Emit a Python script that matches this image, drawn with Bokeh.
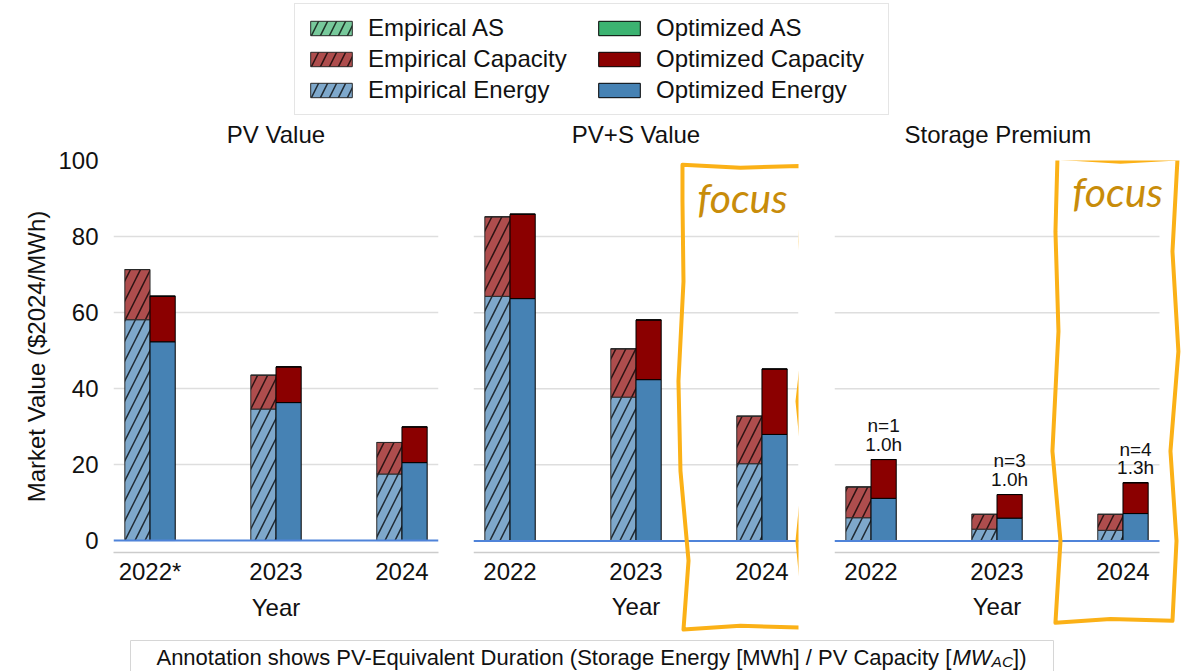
from bokeh.plotting import figure
from bokeh.layouts import column, row
from bokeh.models import (Range1d, FixedTicker, Label, Legend, LegendItem, Title,
                          ColumnDataSource, PolyAnnotation)
from bokeh.transform import dodge
from bokeh.core.properties import value
from bokeh.embed import file_html
from bokeh.resources import INLINE

# ---------------- data ----------------
years = ["2022", "2023", "2024"]
first_panel_year_labels = ["2022*", "2023", "2024"]

pv_emp_energy = [58.1, 34.6, 17.5]
pv_emp_capacity = [13.2, 8.9, 8.3]
pv_emp_as = [0.0, 0.0, 0.0]
pv_opt_energy = [52.3, 36.3, 20.5]
pv_opt_capacity = [12.0, 9.4, 9.4]
pv_opt_as = [0.0, 0.0, 0.0]

pvs_emp_energy = [64.3, 37.8, 20.3]
pvs_emp_capacity = [20.9, 12.7, 12.5]
pvs_emp_as = [0.0, 0.0, 0.0]
pvs_opt_energy = [63.7, 42.4, 28.0]
pvs_opt_capacity = [22.2, 15.7, 17.2]
pvs_opt_as = [0.0, 0.0, 0.0]

sp_emp_energy = [6.1, 3.1, 2.8]
sp_emp_capacity = [8.1, 3.9, 4.2]
sp_emp_as = [0.0, 0.0, 0.0]
sp_opt_energy = [11.2, 6.0, 7.2]
sp_opt_capacity = [10.2, 6.2, 8.1]
sp_opt_as = [0.0, 0.0, 0.0]

sp_n_sites = [1, 3, 4]
sp_duration_h = [1.0, 1.0, 1.3]

y_ticks = [0, 20, 40, 60, 80, 100]
grid_ticks = [20, 40, 60, 80]

panel_titles = ["PV Value", "PV+S Value", "Storage Premium"]
legend_emp = ["Empirical AS", "Empirical Capacity", "Empirical Energy"]
legend_opt = ["Optimized AS", "Optimized Capacity", "Optimized Energy"]
footer_main = "Annotation shows PV-Equivalent Duration (Storage Energy [MWh] / PV Capacity ["
footer_ital = "MW"
footer_sub = "AC"
footer_end = "])"

# ---------------- styling ----------------
FONT = "Liberation Sans"
TXT = "#111111"
EMP_COLORS = ["#7ea8cb", "#ae4d4d", "#77c99b"]   # energy, capacity, AS
OPT_COLORS = ["#4682b4", "#8b0000", "#3cb371"]
FOCUS_LINE = "#fbb117"
FOCUS_TEXT = "#c88c0a"
ZERO_LINE = "#4f83d9"
GRID_COLOR = "#dedede"
AXIS_COLOR = "#cccccc"

TOTAL_W = 1181
LEG_H, ROW_H, FOOT_H = 118, 518, 35
PX_PER_X = 325 / 2.58
PX_PER_Y = 3.8125
XR = (-0.29, 2.29)
Y_TOP = 100
Y_AXIS_POS = -3.15
FRAME_TOP = 41
AXIS_FRAME_H = 393           # frame height down to the x-axis line
Y_BOTTOM_EXT = Y_TOP - (ROW_H - FRAME_TOP) / PX_PER_Y
# (width, min_border_left, min_border_right, frame width)
PANEL_DIMS = [(455, 113, 17, 325), (361, 18, 18, 325), (365, 18, 0, 347)]
BAR_W = 0.2

# hand-drawn "focus" outlines (x in category units, y in value units)
focus_boxes = {
    1: dict(xs=[1.369, 1.829, 2.329, 2.306, 2.345, 2.282, 2.337, 2.282, 2.329, 2.329,
                1.829, 1.377, 1.417, 1.353, 1.337, 1.377, 1.369],
            ys=[98.9, 98.1, 98.6, 78.7, 55.1, 36.7, 18.4, 0.0, -15.7, -22.8,
                -22.3, -23.3, -5.2, 18.4, 42.0, 68.2, 89.2],
            label=(1.845, 90.2)),
    2: dict(xs=[1.480, 1.980, 2.433, 2.393, 2.440, 2.377, 2.425, 2.393,
                1.901, 1.464, 1.504, 1.440, 1.488, 1.464],
            ys=[100.7, 99.7, 100.5, 76.1, 49.8, 23.6, 0.0, -21.0,
                -20.5, -21.5, 0.0, 23.6, 55.1, 81.3],
            label=(1.957, 91.8)),
}

panel_data = [
    ((pv_emp_energy, pv_emp_capacity, pv_emp_as), (pv_opt_energy, pv_opt_capacity, pv_opt_as)),
    ((pvs_emp_energy, pvs_emp_capacity, pvs_emp_as), (pvs_opt_energy, pvs_opt_capacity, pvs_opt_as)),
    ((sp_emp_energy, sp_emp_capacity, sp_emp_as), (sp_opt_energy, sp_opt_capacity, sp_opt_as)),
]


def style_text_axis(ax):
    ax.major_tick_line_color = None
    ax.minor_tick_line_color = None
    ax.major_tick_out = 0
    ax.major_tick_in = 0
    ax.minor_tick_out = 0
    ax.minor_tick_in = 0
    ax.major_label_text_font = FONT
    ax.major_label_text_font_size = "24px"
    ax.major_label_text_color = TXT
    ax.axis_label_text_font = FONT
    ax.axis_label_text_font_size = "24px"
    ax.axis_label_text_font_style = "normal"
    ax.axis_label_text_color = TXT


panels = []
for i, (title, (emp, opt), (w, bl, br, fw)) in enumerate(zip(panel_titles, panel_data, PANEL_DIMS)):
    x_end = XR[0] + fw / PX_PER_X
    has_focus = i in focus_boxes
    if has_focus:
        # frame extends below the axis so the hand-drawn outline is visible
        y_rng = Range1d(Y_BOTTOM_EXT, Y_TOP)
        mb_bottom = 0
    else:
        y_rng = Range1d(Y_AXIS_POS, Y_TOP)
        mb_bottom = ROW_H - FRAME_TOP - AXIS_FRAME_H
    p = figure(width=w, height=ROW_H,
               x_range=Range1d(XR[0], x_end), y_range=y_rng,
               toolbar_location=None, output_backend="svg",
               y_axis_location="left" if i == 0 else None,
               min_border_left=bl, min_border_right=br,
               min_border_top=FRAME_TOP, min_border_bottom=mb_bottom,
               frame_align=False)
    p.outline_line_color = None
    # spacer between frame and title, then the title itself
    p.add_layout(Title(text=" ", text_font_size="1px", standoff=10), "above")
    t = Title(text=title, text_font=FONT, text_font_size="24px", text_font_style="normal",
              text_color=TXT, standoff=0)
    if fw == 325:
        t.align = "center"
    else:
        t.align = "left"
        t.offset = 70
    p.add_layout(t, "above")
    p.xgrid.visible = False
    p.ygrid.visible = False

    # horizontal grid lines, limited to the panel's data area
    p.segment(x0=XR[0], x1=XR[1], y0=grid_ticks, y1=grid_ticks,
              line_color=GRID_COLOR, line_width=1.5)

    src = ColumnDataSource(dict(
        x=list(range(len(years))),
        e_energy=emp[0], e_capacity=emp[1], e_as=emp[2],
        o_energy=opt[0], o_capacity=opt[1], o_as=opt[2],
    ))
    p.vbar_stack(["e_energy", "e_capacity", "e_as"], x=dodge("x", -BAR_W / 2, range=p.x_range),
                 width=BAR_W, source=src, fill_color=EMP_COLORS, fill_alpha=1.0,
                 line_color="#2a2a2a", line_width=1,
                 hatch_pattern="/", hatch_color="black", hatch_alpha=0.75,
                 hatch_scale=20, hatch_weight=1.5)
    p.vbar_stack(["o_energy", "o_capacity", "o_as"], x=dodge("x", BAR_W / 2, range=p.x_range),
                 width=BAR_W, source=src, fill_color=OPT_COLORS, fill_alpha=1.0,
                 line_color="black", line_width=1)

    # zero reference line
    p.segment(x0=[XR[0]], x1=[XR[1]], y0=[0], y1=[0], line_color=ZERO_LINE, line_width=2)

    xa = p.xaxis[0]
    xa.bounds = XR
    xa.ticker = FixedTicker(ticks=list(range(len(years))))
    labels = first_panel_year_labels if i == 0 else years
    xa.major_label_overrides = {k: y for k, y in enumerate(labels)}
    xa.axis_line_color = AXIS_COLOR
    xa.axis_line_width = 1.5
    style_text_axis(xa)
    xa.axis_label = "Year"
    if has_focus:
        xa.fixed_location = Y_AXIS_POS
        xa.major_label_standoff = 10
        xa.axis_label_standoff = 10
    else:
        xa.major_label_standoff = 5
        xa.axis_label_standoff = 6

    if i == 0:
        ya = p.yaxis[0]
        ya.ticker = FixedTicker(ticks=y_ticks)
        ya.axis_line_color = None
        style_text_axis(ya)
        ya.major_label_standoff = 15
        ya.axis_label = "Market Value ($2024/MWh)"
        ya.axis_label_standoff = 5

    if i == 2:
        tops = [e + c + a for e, c, a in zip(opt[0], opt[1], opt[2])]
        ann = ColumnDataSource(dict(
            x=list(range(len(years))), y=tops,
            text=[f"n={n}\n{d:.1f}h" for n, d in zip(sp_n_sites, sp_duration_h)]))
        p.text(x=dodge("x", BAR_W / 2, range=p.x_range), y="y", text="text", source=ann,
               text_align="center", text_baseline="bottom", y_offset=-5,
               text_font=value(FONT), text_font_size="19px", text_line_height=0.86,
               text_color=TXT)

    if has_focus:
        fb = focus_boxes[i]
        p.add_layout(PolyAnnotation(xs=fb["xs"], ys=fb["ys"], xs_units="data", ys_units="data",
                                    fill_alpha=0, line_alpha=1.0, line_color=FOCUS_LINE,
                                    line_width=4, line_join="round"))
        p.add_layout(Label(x=fb["label"][0], y=fb["label"][1], text="focus", text_font="Lato",
                           text_font_style="italic", text_font_size="41px",
                           text_color=FOCUS_TEXT, text_align="center", text_baseline="middle"))
    panels.append(p)

# ---------------- legend figure ----------------
lf = figure(width=TOTAL_W, height=LEG_H, x_range=Range1d(0, 1), y_range=Range1d(0, 1),
            toolbar_location=None, output_backend="svg", min_border=0,
            x_axis_location=None, y_axis_location=None, frame_align=False)
lf.outline_line_color = None
lf.grid.visible = False
items = []
stack_order = [2, 1, 0]  # AS, Capacity, Energy
for lbl, ci in zip(legend_emp, stack_order):
    r = lf.vbar(x=[5], top=[1], width=0.1, fill_color=EMP_COLORS[ci], line_color="#2a2a2a",
                hatch_pattern="/", hatch_color="black", hatch_alpha=0.75,
                hatch_scale=18, hatch_weight=1.5)
    items.append(LegendItem(label=lbl, renderers=[r]))
for lbl, ci in zip(legend_opt, stack_order):
    r = lf.vbar(x=[5], top=[1], width=0.1, fill_color=OPT_COLORS[ci], line_color="black")
    items.append(LegendItem(label=lbl, renderers=[r]))
leg = Legend(items=items, location=(294, 3), orientation="vertical", nrows=3,
             margin=0, padding=10, spacing=3, glyph_width=52, glyph_height=18,
             label_standoff=11, label_width=222,
             label_text_font=FONT, label_text_font_size="24px", label_text_color=TXT,
             border_line_color="#cccccc", border_line_width=1, background_fill_color="white")
lf.add_layout(leg)

# ---------------- footer figure ----------------
ARIAL_W = {' ': 278, '(': 333, ')': 333, '-': 333, '/': 278, '[': 278, ']': 278,
           'A': 667, 'C': 722, 'D': 722, 'E': 667, 'M': 833, 'P': 667, 'S': 667, 'V': 667,
           'W': 944, 'a': 556, 'c': 500, 'e': 556, 'g': 556, 'h': 556, 'i': 222, 'l': 222,
           'n': 556, 'o': 556, 'p': 556, 'q': 556, 'r': 333, 's': 500, 't': 278, 'u': 556,
           'v': 500, 'w': 722, 'y': 500}


def tw(s, size):
    return sum(ARIAL_W.get(ch, 556) for ch in s) * size / 1000.0


FS, FS_SUB = 22, 15.5
ff = figure(width=TOTAL_W, height=FOOT_H, x_range=Range1d(0, TOTAL_W), y_range=Range1d(0, FOOT_H),
            toolbar_location=None, output_backend="svg", min_border=0,
            x_axis_location=None, y_axis_location=None, frame_align=False)
ff.outline_line_color = None
ff.grid.visible = False
ff.quad(left=[130], right=[1053], bottom=[-10], top=[FOOT_H - 4], fill_color="white",
        line_color="#d6d6d6", line_width=1)
w_main, w_it, w_sub, w_end = tw(footer_main, FS), tw(footer_ital, FS), tw(footer_sub, FS_SUB), tw(footer_end, FS)
x0 = 591 - (w_main + w_it + w_sub + w_end) / 2
base = 14
ff.text(x=[x0], y=[base], text=[footer_main], text_font=value(FONT), text_font_size=f"{FS}px",
        text_baseline="alphabetic", text_align="left", text_color=TXT)
ff.text(x=[x0 + w_main], y=[base], text=[footer_ital], text_font=value(FONT), text_font_size=f"{FS}px",
        text_font_style="italic", text_baseline="alphabetic", text_align="left", text_color=TXT)
ff.text(x=[x0 + w_main + w_it], y=[base - 4], text=[footer_sub], text_font=value(FONT),
        text_font_size=f"{FS_SUB}px", text_font_style="italic", text_baseline="alphabetic",
        text_align="left", text_color=TXT)
ff.text(x=[x0 + w_main + w_it + w_sub], y=[base], text=[footer_end], text_font=value(FONT),
        text_font_size=f"{FS}px", text_baseline="alphabetic", text_align="left", text_color=TXT)

layout = column(lf, row(*panels, spacing=0), ff, spacing=0)
open("out.html", "w").write(file_html(layout, INLINE))
